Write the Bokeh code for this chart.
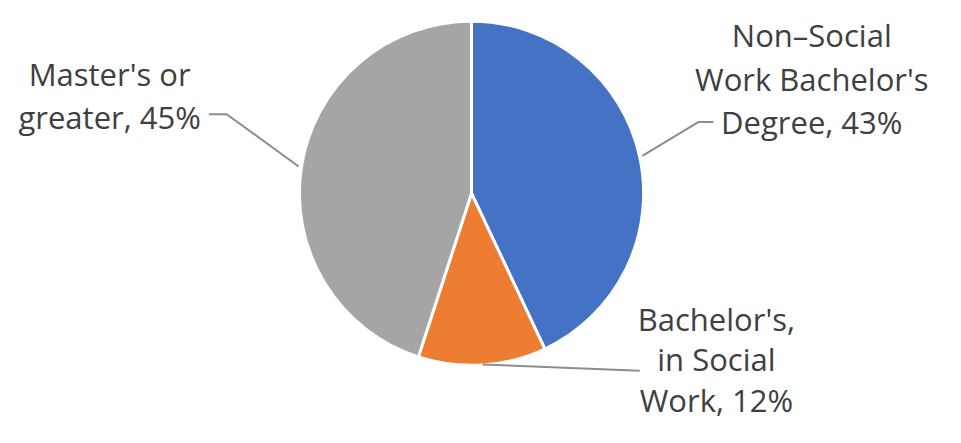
import math
from bokeh.plotting import figure
from bokeh.models import Range1d
from bokeh.core.properties import value
from bokeh.embed import file_html
from bokeh.resources import INLINE

# ---- data ----
categories = ["Non–Social Work Bachelor's Degree", "Bachelor's, in Social Work", "Master's or greater"]
shares = [43, 12, 45]
colors = ["#4472C4", "#ED7D31", "#A5A5A5"]
label_lines = [
    ["Non–Social", "Work Bachelor's", "Degree, {}%"],
    ["Bachelor's,", "in Social", "Work, {}%"],
    ["Master's or", "greater, {}%"],
]

# ---- layout: data units = reference-image pixels (961 x 443), y flipped ----
RW, RH = 961, 443
W, H = 945, 427
def Y(py): return RH - py

cx, cy, R = 479, Y(200), 175
label_anchor = [(825, 36), (728, 330), (111, 76)]   # first-line baseline (ref px)
line_gaps = [45, 42, 45]
leader_elbow = [[(710, 126), (725, 126)], [(650, 384)], [(230, 118), (212, 118)]]
font_px = round(32 * H / RH)

p = figure(width=W, height=H, output_backend="svg", toolbar_location=None,
           x_range=Range1d(0, RW), y_range=Range1d(0, RH), min_border=0)
p.axis.visible = False
p.grid.visible = False
p.outline_line_color = None
p.background_fill_color = "white"

total = sum(shares)
start = math.pi / 2
starts, ends, mids = [], [], []
for s in shares:
    a = s / total * 2 * math.pi
    starts.append(start)
    ends.append(start - a)
    mids.append(start - a / 2)
    start -= a

p.wedge(x=[cx] * 3, y=[cy] * 3, radius=R, start_angle=starts, end_angle=ends,
        direction="clock", fill_color=colors, line_color="white", line_width=3)

for i, lines in enumerate(label_lines):
    ex = cx + (R + 3) * math.cos(mids[i])
    ey = cy + (R + 3) * math.sin(mids[i])
    xs = [ex] + [a for a, b in leader_elbow[i]]
    ys = [ey] + [Y(b) for a, b in leader_elbow[i]]
    p.line(xs, ys, line_color="#8c8c8c", line_width=2)
    ax, ay = label_anchor[i]
    for j, t in enumerate(lines):
        txt = t.format(shares[i]) if "{}" in t else t
        p.text(x=[ax], y=[Y(ay + j * line_gaps[i])], text=[txt],
               text_font=value("Open Sans"), text_font_size=f"{font_px}px",
               text_color="#404040", text_align="center", text_baseline="alphabetic")

open("out.html", "w").write(file_html(p, INLINE))
